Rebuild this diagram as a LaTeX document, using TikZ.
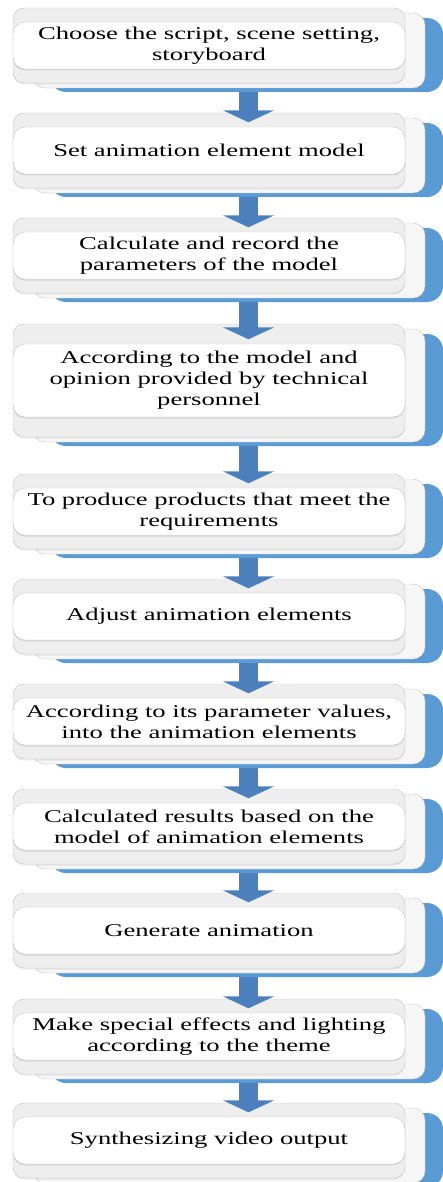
\documentclass[tikz,border=0pt]{standalone}
\usepackage{fontspec}
\setmainfont[FakeStretch=1.48]{Liberation Serif}
\usetikzlibrary{arrows.meta,shadows}

\definecolor{stepblue}{RGB}{91,155,213}
\definecolor{arrowblue}{RGB}{76,128,189}
\definecolor{cardgray}{RGB}{238,238,238}
\definecolor{cardline}{RGB}{196,196,196}

% #1 name, #2 top of white box, #3 its height, #4 card margin, #5 text
\newcommand{\flowstep}[5]{%
  \fill[stepblue, rounded corners=16pt] (50,#2-#4+10) rectangle (443,#2+#3+#4+9);
  \draw[backcard] (33,#2-#4+5) rectangle (425,#2+#3+#4+5);
  \draw[frontcard] (13,#2-#4) rectangle (405,#2+#3+#4);
  \node[whitebox, minimum height=#3pt] (#1) at (209,#2+#3/2) {#5};
  \coordinate (out-#1) at (248.5,#2+#3+#4+9);
}

\begin{document}
\begin{tikzpicture}[x=1pt, y=-1pt,
    backcard/.style ={draw=cardline, fill=white!50!cardgray, rounded corners=12pt},
    frontcard/.style={draw=cardline, fill=cardgray, rounded corners=11pt,
      drop shadow={shadow xshift=0pt, shadow yshift=-1.5pt, opacity=0.15}},
    whitebox/.style ={draw=cardline, fill=white, rounded corners=12pt, inner sep=2pt,
      minimum width=392pt, align=center, font=\fontsize{18}{21}\selectfont,
      drop shadow={shadow xshift=0pt, shadow yshift=-1.5pt, opacity=0.2}},
    flowarrow/.style={arrowblue, line width=19pt, shorten >=4.5pt,
      -{Triangle[width=51pt, length=12pt]}}]
  \useasboundingbox (0,0) rectangle (443,1182);

  \flowstep{s1}{22}{47}{14}{Choose the script, scene setting,\\ storyboard}
  \flowstep{s2}{127}{47}{14}{Set animation element model}
  \flowstep{s3}{232}{47}{14}{Calculate and record the\\ parameters of the model}
  \flowstep{s4}{344}{73}{20}{According to the model and\\ opinion provided by technical\\ personnel}
  \flowstep{s5}{488}{47}{14}{To produce products that meet the\\ requirements}
  \flowstep{s6}{593}{47}{14}{Adjust animation elements}
  \flowstep{s7}{698}{47}{14}{According to its parameter values,\\ into the animation elements}
  \flowstep{s8}{803}{47}{14}{Calculated results based on the\\ model of animation elements}
  \flowstep{s9}{907}{47}{14}{Generate animation}
  \flowstep{s10}{1013}{47}{14}{Make special effects and lighting\\ according to the theme}
  \flowstep{s11}{1117}{47}{14}{Synthesizing video output}

  % arrows between the steps
  \foreach \a/\b in {s1/s2, s2/s3, s3/s4, s4/s5, s5/s6, s6/s7, s7/s8, s8/s9, s9/s10, s10/s11}
    \draw[flowarrow] (out-\a) -- (out-\a |- \b.north);
\end{tikzpicture}
\end{document}
